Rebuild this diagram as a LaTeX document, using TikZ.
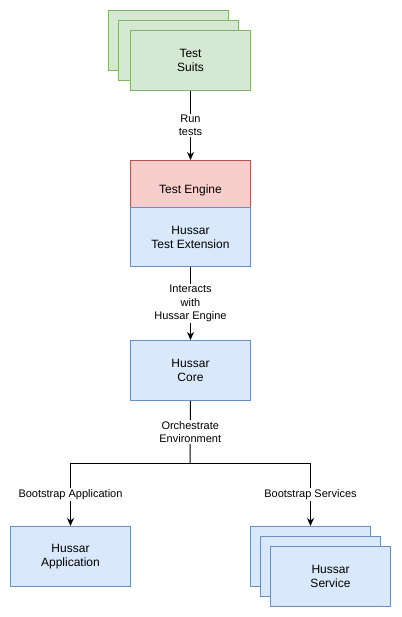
\documentclass[tikz,border=0pt]{standalone}
\usepackage{fontspec}
\setmainfont{Liberation Sans}
\usetikzlibrary{arrows.meta}
\definecolor{gfill}{HTML}{D5E8D4}
\definecolor{gline}{HTML}{82B366}
\definecolor{rfill}{HTML}{F8CECC}
\definecolor{rline}{HTML}{B85450}
\definecolor{bfill}{HTML}{DAE8FC}
\definecolor{bline}{HTML}{6C8EBF}
\tikzset{
  box/.style={draw, line width=1pt, anchor=north west, minimum width=120pt, minimum height=60pt,
    inner sep=0pt, align=center, font=\fontsize{12pt}{14pt}\selectfont},
  gbox/.style={box, fill=gfill, draw=gline},
  rbox/.style={box, fill=rfill, draw=rline},
  bbox/.style={box, fill=bfill, draw=bline},
  lbl/.style={fill=white, inner sep=1pt, align=center, font=\fontsize{11pt}{13.5pt}\selectfont},
  conn/.style={line width=1pt, -{Stealth[length=8pt,width=7pt,inset=2.5pt]}},
  plain/.style={line width=1pt}
}
\begin{document}
\begin{tikzpicture}[x=1pt,y=-1pt]
\useasboundingbox (0,0) rectangle (401,617);
% Test suits stack
\node[gbox] (s1) at (108,10) {};
\node[gbox] (s2) at (118,20) {};
\node[gbox] (s3) at (130,30) {Test\\Suits};
% Engine + extension
\node[rbox, minimum height=47pt,
  label={[font=\fontsize{12pt}{14pt}\selectfont, yshift=-6.5pt]center:Test Engine}] (eng) at (130,160) {};
\node[bbox, minimum height=59pt] (ext) at (130,207) {Hussar\\Test Extension};
% Core
\node[bbox] (core) at (130,340) {Hussar\\Core};
% Application
\node[bbox] (app) at (10,526) {Hussar\\Application};
% Service stack
\node[bbox] (v1) at (250,526) {};
\node[bbox] (v2) at (260,536) {};
\node[bbox] (v3) at (270,546) {Hussar\\Service};
\coordinate (split) at (190,463);
% connectors
\draw[conn] (s3.south) -- node[lbl] {Run\\tests} (eng.north);
\draw[conn] (ext.south) -- node[lbl] {Interacts\\with\\Hussar Engine} (core.north);
\draw[plain] (core.south) -- node[lbl] {Orchestrate\\Environment} (split);
\draw[conn] (split) -| node[lbl, pos=0.75] {Bootstrap Application} (app.north);
\draw[conn] (split) -| node[lbl, pos=0.75] {Bootstrap Services} (v1.north);
\end{tikzpicture}
\end{document}
